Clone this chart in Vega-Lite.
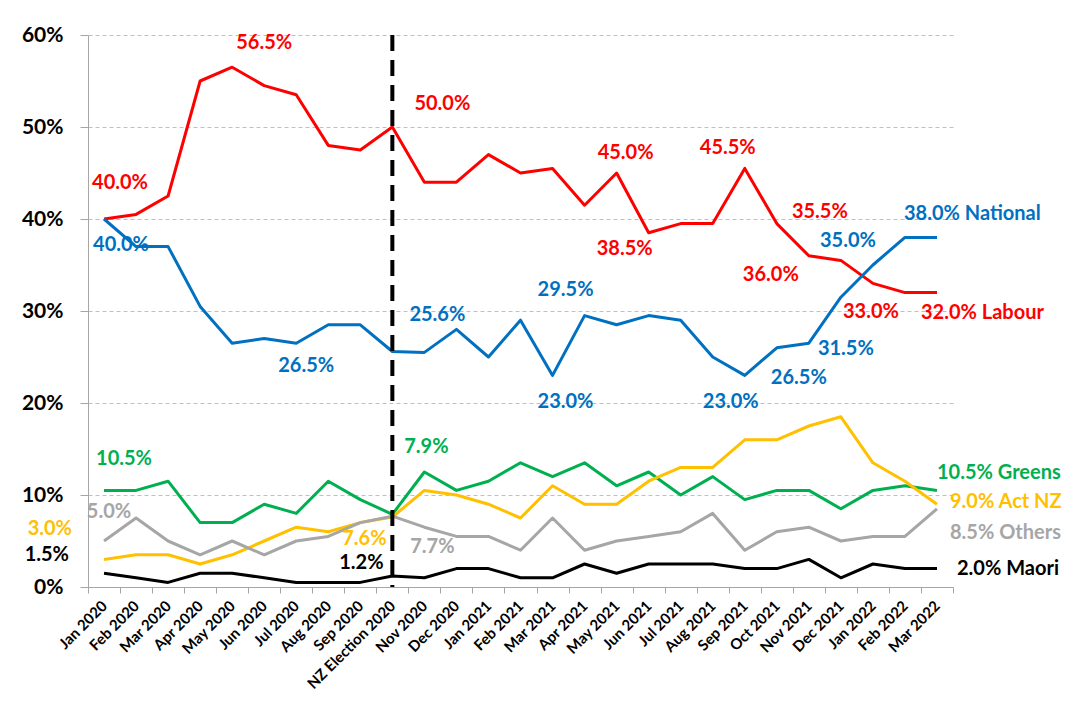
{
  "$schema": "https://vega.github.io/schema/vega-lite/v6.json",
  "width": 865,
  "height": 552,
  "autosize": "none",
  "padding": {"left": 88, "top": 35, "right": 129, "bottom": 117},
  "background": "white",
  "config": {"view": {"stroke": null}, "font": "Lato"},
  "datasets": {
    "polls": [
      {"month":"Jan 2020","party":"Labour","share":0.40},{"month":"Feb 2020","party":"Labour","share":0.405},{"month":"Mar 2020","party":"Labour","share":0.425},{"month":"Apr 2020","party":"Labour","share":0.55},{"month":"May 2020","party":"Labour","share":0.565},{"month":"Jun 2020","party":"Labour","share":0.545},{"month":"Jul 2020","party":"Labour","share":0.535},{"month":"Aug 2020","party":"Labour","share":0.48},{"month":"Sep 2020","party":"Labour","share":0.475},{"month":"NZ Election 2020","party":"Labour","share":0.50},{"month":"Nov 2020","party":"Labour","share":0.44},{"month":"Dec 2020","party":"Labour","share":0.44},{"month":"Jan 2021","party":"Labour","share":0.47},{"month":"Feb 2021","party":"Labour","share":0.45},{"month":"Mar 2021","party":"Labour","share":0.455},{"month":"Apr 2021","party":"Labour","share":0.415},{"month":"May 2021","party":"Labour","share":0.45},{"month":"Jun 2021","party":"Labour","share":0.385},{"month":"Jul 2021","party":"Labour","share":0.395},{"month":"Aug 2021","party":"Labour","share":0.395},{"month":"Sep 2021","party":"Labour","share":0.455},{"month":"Oct 2021","party":"Labour","share":0.395},{"month":"Nov 2021","party":"Labour","share":0.36},{"month":"Dec 2021","party":"Labour","share":0.355},{"month":"Jan 2022","party":"Labour","share":0.33},{"month":"Feb 2022","party":"Labour","share":0.32},{"month":"Mar 2022","party":"Labour","share":0.32},
      {"month":"Jan 2020","party":"National","share":0.40},{"month":"Feb 2020","party":"National","share":0.37},{"month":"Mar 2020","party":"National","share":0.37},{"month":"Apr 2020","party":"National","share":0.305},{"month":"May 2020","party":"National","share":0.265},{"month":"Jun 2020","party":"National","share":0.27},{"month":"Jul 2020","party":"National","share":0.265},{"month":"Aug 2020","party":"National","share":0.285},{"month":"Sep 2020","party":"National","share":0.285},{"month":"NZ Election 2020","party":"National","share":0.256},{"month":"Nov 2020","party":"National","share":0.255},{"month":"Dec 2020","party":"National","share":0.28},{"month":"Jan 2021","party":"National","share":0.25},{"month":"Feb 2021","party":"National","share":0.29},{"month":"Mar 2021","party":"National","share":0.23},{"month":"Apr 2021","party":"National","share":0.295},{"month":"May 2021","party":"National","share":0.285},{"month":"Jun 2021","party":"National","share":0.295},{"month":"Jul 2021","party":"National","share":0.29},{"month":"Aug 2021","party":"National","share":0.25},{"month":"Sep 2021","party":"National","share":0.23},{"month":"Oct 2021","party":"National","share":0.26},{"month":"Nov 2021","party":"National","share":0.265},{"month":"Dec 2021","party":"National","share":0.315},{"month":"Jan 2022","party":"National","share":0.35},{"month":"Feb 2022","party":"National","share":0.38},{"month":"Mar 2022","party":"National","share":0.38},
      {"month":"Jan 2020","party":"Greens","share":0.105},{"month":"Feb 2020","party":"Greens","share":0.105},{"month":"Mar 2020","party":"Greens","share":0.115},{"month":"Apr 2020","party":"Greens","share":0.07},{"month":"May 2020","party":"Greens","share":0.07},{"month":"Jun 2020","party":"Greens","share":0.09},{"month":"Jul 2020","party":"Greens","share":0.08},{"month":"Aug 2020","party":"Greens","share":0.115},{"month":"Sep 2020","party":"Greens","share":0.095},{"month":"NZ Election 2020","party":"Greens","share":0.079},{"month":"Nov 2020","party":"Greens","share":0.125},{"month":"Dec 2020","party":"Greens","share":0.105},{"month":"Jan 2021","party":"Greens","share":0.115},{"month":"Feb 2021","party":"Greens","share":0.135},{"month":"Mar 2021","party":"Greens","share":0.12},{"month":"Apr 2021","party":"Greens","share":0.135},{"month":"May 2021","party":"Greens","share":0.11},{"month":"Jun 2021","party":"Greens","share":0.125},{"month":"Jul 2021","party":"Greens","share":0.10},{"month":"Aug 2021","party":"Greens","share":0.12},{"month":"Sep 2021","party":"Greens","share":0.095},{"month":"Oct 2021","party":"Greens","share":0.105},{"month":"Nov 2021","party":"Greens","share":0.105},{"month":"Dec 2021","party":"Greens","share":0.085},{"month":"Jan 2022","party":"Greens","share":0.105},{"month":"Feb 2022","party":"Greens","share":0.11},{"month":"Mar 2022","party":"Greens","share":0.105},
      {"month":"Jan 2020","party":"Act NZ","share":0.03},{"month":"Feb 2020","party":"Act NZ","share":0.035},{"month":"Mar 2020","party":"Act NZ","share":0.035},{"month":"Apr 2020","party":"Act NZ","share":0.025},{"month":"May 2020","party":"Act NZ","share":0.035},{"month":"Jun 2020","party":"Act NZ","share":0.05},{"month":"Jul 2020","party":"Act NZ","share":0.065},{"month":"Aug 2020","party":"Act NZ","share":0.06},{"month":"Sep 2020","party":"Act NZ","share":0.07},{"month":"NZ Election 2020","party":"Act NZ","share":0.076},{"month":"Nov 2020","party":"Act NZ","share":0.105},{"month":"Dec 2020","party":"Act NZ","share":0.10},{"month":"Jan 2021","party":"Act NZ","share":0.09},{"month":"Feb 2021","party":"Act NZ","share":0.075},{"month":"Mar 2021","party":"Act NZ","share":0.11},{"month":"Apr 2021","party":"Act NZ","share":0.09},{"month":"May 2021","party":"Act NZ","share":0.09},{"month":"Jun 2021","party":"Act NZ","share":0.115},{"month":"Jul 2021","party":"Act NZ","share":0.13},{"month":"Aug 2021","party":"Act NZ","share":0.13},{"month":"Sep 2021","party":"Act NZ","share":0.16},{"month":"Oct 2021","party":"Act NZ","share":0.16},{"month":"Nov 2021","party":"Act NZ","share":0.175},{"month":"Dec 2021","party":"Act NZ","share":0.185},{"month":"Jan 2022","party":"Act NZ","share":0.135},{"month":"Feb 2022","party":"Act NZ","share":0.115},{"month":"Mar 2022","party":"Act NZ","share":0.09},
      {"month":"Jan 2020","party":"Others","share":0.05},{"month":"Feb 2020","party":"Others","share":0.075},{"month":"Mar 2020","party":"Others","share":0.05},{"month":"Apr 2020","party":"Others","share":0.035},{"month":"May 2020","party":"Others","share":0.05},{"month":"Jun 2020","party":"Others","share":0.035},{"month":"Jul 2020","party":"Others","share":0.05},{"month":"Aug 2020","party":"Others","share":0.055},{"month":"Sep 2020","party":"Others","share":0.07},{"month":"NZ Election 2020","party":"Others","share":0.077},{"month":"Nov 2020","party":"Others","share":0.065},{"month":"Dec 2020","party":"Others","share":0.055},{"month":"Jan 2021","party":"Others","share":0.055},{"month":"Feb 2021","party":"Others","share":0.04},{"month":"Mar 2021","party":"Others","share":0.075},{"month":"Apr 2021","party":"Others","share":0.04},{"month":"May 2021","party":"Others","share":0.05},{"month":"Jun 2021","party":"Others","share":0.055},{"month":"Jul 2021","party":"Others","share":0.06},{"month":"Aug 2021","party":"Others","share":0.08},{"month":"Sep 2021","party":"Others","share":0.04},{"month":"Oct 2021","party":"Others","share":0.06},{"month":"Nov 2021","party":"Others","share":0.065},{"month":"Dec 2021","party":"Others","share":0.05},{"month":"Jan 2022","party":"Others","share":0.055},{"month":"Feb 2022","party":"Others","share":0.055},{"month":"Mar 2022","party":"Others","share":0.085},
      {"month":"Jan 2020","party":"Maori","share":0.015},{"month":"Feb 2020","party":"Maori","share":0.01},{"month":"Mar 2020","party":"Maori","share":0.005},{"month":"Apr 2020","party":"Maori","share":0.015},{"month":"May 2020","party":"Maori","share":0.015},{"month":"Jun 2020","party":"Maori","share":0.01},{"month":"Jul 2020","party":"Maori","share":0.005},{"month":"Aug 2020","party":"Maori","share":0.005},{"month":"Sep 2020","party":"Maori","share":0.005},{"month":"NZ Election 2020","party":"Maori","share":0.012},{"month":"Nov 2020","party":"Maori","share":0.01},{"month":"Dec 2020","party":"Maori","share":0.02},{"month":"Jan 2021","party":"Maori","share":0.02},{"month":"Feb 2021","party":"Maori","share":0.01},{"month":"Mar 2021","party":"Maori","share":0.01},{"month":"Apr 2021","party":"Maori","share":0.025},{"month":"May 2021","party":"Maori","share":0.015},{"month":"Jun 2021","party":"Maori","share":0.025},{"month":"Jul 2021","party":"Maori","share":0.025},{"month":"Aug 2021","party":"Maori","share":0.025},{"month":"Sep 2021","party":"Maori","share":0.02},{"month":"Oct 2021","party":"Maori","share":0.02},{"month":"Nov 2021","party":"Maori","share":0.03},{"month":"Dec 2021","party":"Maori","share":0.01},{"month":"Jan 2022","party":"Maori","share":0.025},{"month":"Feb 2022","party":"Maori","share":0.02},{"month":"Mar 2022","party":"Maori","share":0.02}
    ],
    "labels": [
      {"month":"Jan 2020","party":"Labour","share":0.40,"label":"40.0%"},
      {"month":"May 2020","party":"Labour","share":0.565,"label":"56.5%"},
      {"month":"NZ Election 2020","party":"Labour","share":0.50,"label":"50.0%"},
      {"month":"May 2021","party":"Labour","share":0.45,"label":"45.0%"},
      {"month":"Jun 2021","party":"Labour","share":0.385,"label":"38.5%"},
      {"month":"Sep 2021","party":"Labour","share":0.455,"label":"45.5%"},
      {"month":"Nov 2021","party":"Labour","share":0.36,"label":"36.0%"},
      {"month":"Dec 2021","party":"Labour","share":0.355,"label":"35.5%"},
      {"month":"Jan 2022","party":"Labour","share":0.33,"label":"33.0%"},
      {"month":"Mar 2022","party":"Labour","share":0.32,"label":"32.0% Labour"},
      {"month":"Jan 2020","party":"National","share":0.40,"label":"40.0%"},
      {"month":"Jul 2020","party":"National","share":0.265,"label":"26.5%"},
      {"month":"NZ Election 2020","party":"National","share":0.256,"label":"25.6%"},
      {"month":"Apr 2021","party":"National","share":0.295,"label":"29.5%"},
      {"month":"Mar 2021","party":"National","share":0.23,"label":"23.0%"},
      {"month":"Sep 2021","party":"National","share":0.23,"label":"23.0%"},
      {"month":"Nov 2021","party":"National","share":0.265,"label":"26.5%"},
      {"month":"Dec 2021","party":"National","share":0.315,"label":"31.5%"},
      {"month":"Jan 2022","party":"National","share":0.35,"label":"35.0%"},
      {"month":"Mar 2022","party":"National","share":0.38,"label":"38.0% National"},
      {"month":"Jan 2020","party":"Greens","share":0.105,"label":"10.5%"},
      {"month":"NZ Election 2020","party":"Greens","share":0.079,"label":"7.9%"},
      {"month":"Mar 2022","party":"Greens","share":0.105,"label":"10.5% Greens"},
      {"month":"Jan 2020","party":"Act NZ","share":0.03,"label":"3.0%"},
      {"month":"NZ Election 2020","party":"Act NZ","share":0.076,"label":"7.6%"},
      {"month":"Mar 2022","party":"Act NZ","share":0.09,"label":"9.0% Act NZ"},
      {"month":"Jan 2020","party":"Others","share":0.05,"label":"5.0%"},
      {"month":"NZ Election 2020","party":"Others","share":0.077,"label":"7.7%"},
      {"month":"Mar 2022","party":"Others","share":0.085,"label":"8.5% Others"},
      {"month":"Jan 2020","party":"Maori","share":0.015,"label":"1.5%"},
      {"month":"NZ Election 2020","party":"Maori","share":0.012,"label":"1.2%"},
      {"month":"Mar 2022","party":"Maori","share":0.02,"label":"2.0% Maori"}
    ]
  },
  "layer": [
    {
      "encoding": {
        "x": {"field":"month","type":"nominal","bandPosition":0.5,
          "sort":["Jan 2020","Feb 2020","Mar 2020","Apr 2020","May 2020","Jun 2020","Jul 2020","Aug 2020","Sep 2020","NZ Election 2020","Nov 2020","Dec 2020","Jan 2021","Feb 2021","Mar 2021","Apr 2021","May 2021","Jun 2021","Jul 2021","Aug 2021","Sep 2021","Oct 2021","Nov 2021","Dec 2021","Jan 2022","Feb 2022","Mar 2022"],
          "scale":{"type":"band","paddingInner":0,"paddingOuter":0,
            "domain":["Jan 2020","Feb 2020","Mar 2020","Apr 2020","May 2020","Jun 2020","Jul 2020","Aug 2020","Sep 2020","NZ Election 2020","Nov 2020","Dec 2020","Jan 2021","Feb 2021","Mar 2021","Apr 2021","May 2021","Jun 2021","Jul 2021","Aug 2021","Sep 2021","Oct 2021","Nov 2021","Dec 2021","Jan 2022","Feb 2022","Mar 2022"]},
          "axis":{"title":null,"labelAngle":-45,"labelAlign":"right","labelBaseline":"middle","labelFont":"Lato","labelFontWeight":"bold","labelFontSize":15,"labelColor":"#000000","labelPadding":10,"labelOverlap":false,"tickBand":"extent","tickSize":6,"tickColor":"#A6A6A6","domainColor":"#A6A6A6","grid":false}},
        "y": {"field":"share","type":"quantitative",
          "scale":{"domain":[0,0.6],"nice":false,"zero":true},
          "axis":{"title":null,"values":[0,0.1,0.2,0.3,0.4,0.5,0.6],"format":".0%","labelFont":"Lato","labelFontWeight":"bold","labelFontSize":21,"labelColor":"#000000","labelPadding":17,"tickSize":8,"tickColor":"#A6A6A6","domainColor":"#A6A6A6","grid":true,"gridDash":[4,3],"gridColor":"#BFBFBF"}},
        "color": {"field":"party","type":"nominal","legend":null,
          "scale":{"domain":["Labour","National","Greens","Act NZ","Others","Maori"],"range":["#FF0000","#0070C0","#00B050","#FFC000","#A6A6A6","#000000"]}}
      },
      "layer": [
        {"data":{"name":"polls"},"mark":{"type":"line","strokeWidth":3,"strokeJoin":"round"}},
        {"data":{"name":"labels"},"transform":[{"filter":"datum.party==='Labour' && datum.month==='Jan 2020'"}],"mark":{"type":"text","dx":16,"dy":-36,"fontSize":20,"fontWeight":"bold","baseline":"middle"},"encoding":{"text":{"field":"label"}}},
        {"data":{"name":"labels"},"transform":[{"filter":"datum.party==='Labour' && datum.month==='May 2020'"}],"mark":{"type":"text","dx":32,"dy":-24,"fontSize":20,"fontWeight":"bold","baseline":"middle"},"encoding":{"text":{"field":"label"}}},
        {"data":{"name":"labels"},"transform":[{"filter":"datum.party==='Labour' && datum.month==='NZ Election 2020'"}],"mark":{"type":"text","dx":50,"dy":-23,"fontSize":20,"fontWeight":"bold","baseline":"middle"},"encoding":{"text":{"field":"label"}}},
        {"data":{"name":"labels"},"transform":[{"filter":"datum.party==='Labour' && datum.month==='May 2021'"}],"mark":{"type":"text","dx":9,"dy":-20,"fontSize":20,"fontWeight":"bold","baseline":"middle"},"encoding":{"text":{"field":"label"}}},
        {"data":{"name":"labels"},"transform":[{"filter":"datum.party==='Labour' && datum.month==='Jun 2021'"}],"mark":{"type":"text","dx":-24,"dy":16,"fontSize":20,"fontWeight":"bold","baseline":"middle"},"encoding":{"text":{"field":"label"}}},
        {"data":{"name":"labels"},"transform":[{"filter":"datum.party==='Labour' && datum.month==='Sep 2021'"}],"mark":{"type":"text","dx":-17,"dy":-20,"fontSize":20,"fontWeight":"bold","baseline":"middle"},"encoding":{"text":{"field":"label"}}},
        {"data":{"name":"labels"},"transform":[{"filter":"datum.party==='Labour' && datum.month==='Nov 2021'"}],"mark":{"type":"text","dx":-38,"dy":19,"fontSize":20,"fontWeight":"bold","baseline":"middle"},"encoding":{"text":{"field":"label"}}},
        {"data":{"name":"labels"},"transform":[{"filter":"datum.party==='Labour' && datum.month==='Dec 2021'"}],"mark":{"type":"text","dx":-21,"dy":-48,"fontSize":20,"fontWeight":"bold","baseline":"middle"},"encoding":{"text":{"field":"label"}}},
        {"data":{"name":"labels"},"transform":[{"filter":"datum.party==='Labour' && datum.month==='Jan 2022'"}],"mark":{"type":"text","dx":-2,"dy":29,"fontSize":20,"fontWeight":"bold","baseline":"middle"},"encoding":{"text":{"field":"label"}}},
        {"data":{"name":"labels"},"transform":[{"filter":"datum.party==='Labour' && datum.month==='Mar 2022'"}],"mark":{"type":"text","dx":-16,"dy":20,"align":"left","fontSize":20,"fontWeight":"bold","baseline":"middle"},"encoding":{"text":{"field":"label"}}},
        {"data":{"name":"labels"},"transform":[{"filter":"datum.party==='National' && datum.month==='Jan 2020'"}],"mark":{"type":"text","dx":17,"dy":26,"fontSize":20,"fontWeight":"bold","baseline":"middle"},"encoding":{"text":{"field":"label"}}},
        {"data":{"name":"labels"},"transform":[{"filter":"datum.party==='National' && datum.month==='Jul 2020'"}],"mark":{"type":"text","dx":10,"dy":23,"fontSize":20,"fontWeight":"bold","baseline":"middle"},"encoding":{"text":{"field":"label"}}},
        {"data":{"name":"labels"},"transform":[{"filter":"datum.party==='National' && datum.month==='NZ Election 2020'"}],"mark":{"type":"text","dx":45,"dy":-36,"fontSize":20,"fontWeight":"bold","baseline":"middle"},"encoding":{"text":{"field":"label"}}},
        {"data":{"name":"labels"},"transform":[{"filter":"datum.party==='National' && datum.month==='Apr 2021'"}],"mark":{"type":"text","dx":-19,"dy":-26,"fontSize":20,"fontWeight":"bold","baseline":"middle"},"encoding":{"text":{"field":"label"}}},
        {"data":{"name":"labels"},"transform":[{"filter":"datum.party==='National' && datum.month==='Mar 2021'"}],"mark":{"type":"text","dx":13,"dy":27,"fontSize":20,"fontWeight":"bold","baseline":"middle"},"encoding":{"text":{"field":"label"}}},
        {"data":{"name":"labels"},"transform":[{"filter":"datum.party==='National' && datum.month==='Sep 2021'"}],"mark":{"type":"text","dx":-14,"dy":27,"fontSize":20,"fontWeight":"bold","baseline":"middle"},"encoding":{"text":{"field":"label"}}},
        {"data":{"name":"labels"},"transform":[{"filter":"datum.party==='National' && datum.month==='Nov 2021'"}],"mark":{"type":"text","dx":-10,"dy":35,"fontSize":20,"fontWeight":"bold","baseline":"middle"},"encoding":{"text":{"field":"label"}}},
        {"data":{"name":"labels"},"transform":[{"filter":"datum.party==='National' && datum.month==='Dec 2021'"}],"mark":{"type":"text","dx":5,"dy":52,"fontSize":20,"fontWeight":"bold","baseline":"middle"},"encoding":{"text":{"field":"label"}}},
        {"data":{"name":"labels"},"transform":[{"filter":"datum.party==='National' && datum.month==='Jan 2022'"}],"mark":{"type":"text","dx":-25,"dy":-24,"fontSize":20,"fontWeight":"bold","baseline":"middle"},"encoding":{"text":{"field":"label"}}},
        {"data":{"name":"labels"},"transform":[{"filter":"datum.party==='National' && datum.month==='Mar 2022'"}],"mark":{"type":"text","dx":-33,"dy":-23,"align":"left","fontSize":20,"fontWeight":"bold","baseline":"middle"},"encoding":{"text":{"field":"label"}}},
        {"data":{"name":"labels"},"transform":[{"filter":"datum.party==='Greens' && datum.month==='Jan 2020'"}],"mark":{"type":"text","dx":20,"dy":-31,"fontSize":20,"fontWeight":"bold","baseline":"middle"},"encoding":{"text":{"field":"label"}}},
        {"data":{"name":"labels"},"transform":[{"filter":"datum.party==='Greens' && datum.month==='NZ Election 2020'"}],"mark":{"type":"text","dx":34,"dy":-67,"fontSize":20,"fontWeight":"bold","baseline":"middle"},"encoding":{"text":{"field":"label"}}},
        {"data":{"name":"labels"},"transform":[{"filter":"datum.party==='Greens' && datum.month==='Mar 2022'"}],"mark":{"type":"text","dx":0,"dy":-17,"align":"left","fontSize":20,"fontWeight":"bold","baseline":"middle"},"encoding":{"text":{"field":"label"}}},
        {"data":{"name":"labels"},"transform":[{"filter":"datum.party==='Act NZ' && datum.month==='Jan 2020'"}],"mark":{"type":"text","dx":-32,"dy":-30,"align":"right","fontSize":20,"fontWeight":"bold","baseline":"middle"},"encoding":{"text":{"field":"label"}}},
        {"data":{"name":"labels"},"transform":[{"filter":"datum.party==='Act NZ' && datum.month==='NZ Election 2020'"}],"mark":{"type":"text","dx":-28,"dy":22,"fontSize":20,"fontWeight":"bold","baseline":"middle"},"encoding":{"text":{"field":"label"}}},
        {"data":{"name":"labels"},"transform":[{"filter":"datum.party==='Act NZ' && datum.month==='Mar 2022'"}],"mark":{"type":"text","dx":13,"dy":-2,"align":"left","fontSize":20,"fontWeight":"bold","baseline":"middle"},"encoding":{"text":{"field":"label"}}},
        {"data":{"name":"labels"},"transform":[{"filter":"datum.party==='Others' && datum.month==='Jan 2020'"}],"mark":{"type":"text","dx":5,"dy":-29,"fontSize":20,"fontWeight":"bold","baseline":"middle"},"encoding":{"text":{"field":"label"}}},
        {"data":{"name":"labels"},"transform":[{"filter":"datum.party==='Others' && datum.month==='NZ Election 2020'"}],"mark":{"type":"text","dx":40,"dy":31,"fontSize":20,"fontWeight":"bold","baseline":"middle"},"encoding":{"text":{"field":"label"}}},
        {"data":{"name":"labels"},"transform":[{"filter":"datum.party==='Others' && datum.month==='Mar 2022'"}],"mark":{"type":"text","dx":13,"dy":24,"align":"left","fontSize":20,"fontWeight":"bold","baseline":"middle"},"encoding":{"text":{"field":"label"}}},
        {"data":{"name":"labels"},"transform":[{"filter":"datum.party==='Maori' && datum.month==='Jan 2020'"}],"mark":{"type":"text","dx":-35,"dy":-18,"align":"right","fontSize":20,"fontWeight":"bold","baseline":"middle"},"encoding":{"text":{"field":"label"}}},
        {"data":{"name":"labels"},"transform":[{"filter":"datum.party==='Maori' && datum.month==='NZ Election 2020'"}],"mark":{"type":"text","dx":-31,"dy":-13,"fontSize":20,"fontWeight":"bold","baseline":"middle"},"encoding":{"text":{"field":"label"}}},
        {"data":{"name":"labels"},"transform":[{"filter":"datum.party==='Maori' && datum.month==='Mar 2022'"}],"mark":{"type":"text","dx":20,"dy":0,"align":"left","fontSize":20,"fontWeight":"bold","baseline":"middle"},"encoding":{"text":{"field":"label"}}}
      ]
    },
    {
      "data": {"values": [{"month": "NZ Election 2020"}]},
      "mark": {"type": "rule", "color": "#000000", "strokeWidth": 4, "strokeDash": [16, 9]},
      "encoding": {"x": {"field": "month", "type": "nominal", "bandPosition": 0.5,
        "sort":["Jan 2020","Feb 2020","Mar 2020","Apr 2020","May 2020","Jun 2020","Jul 2020","Aug 2020","Sep 2020","NZ Election 2020","Nov 2020","Dec 2020","Jan 2021","Feb 2021","Mar 2021","Apr 2021","May 2021","Jun 2021","Jul 2021","Aug 2021","Sep 2021","Oct 2021","Nov 2021","Dec 2021","Jan 2022","Feb 2022","Mar 2022"]}}
    }
  ]
}
